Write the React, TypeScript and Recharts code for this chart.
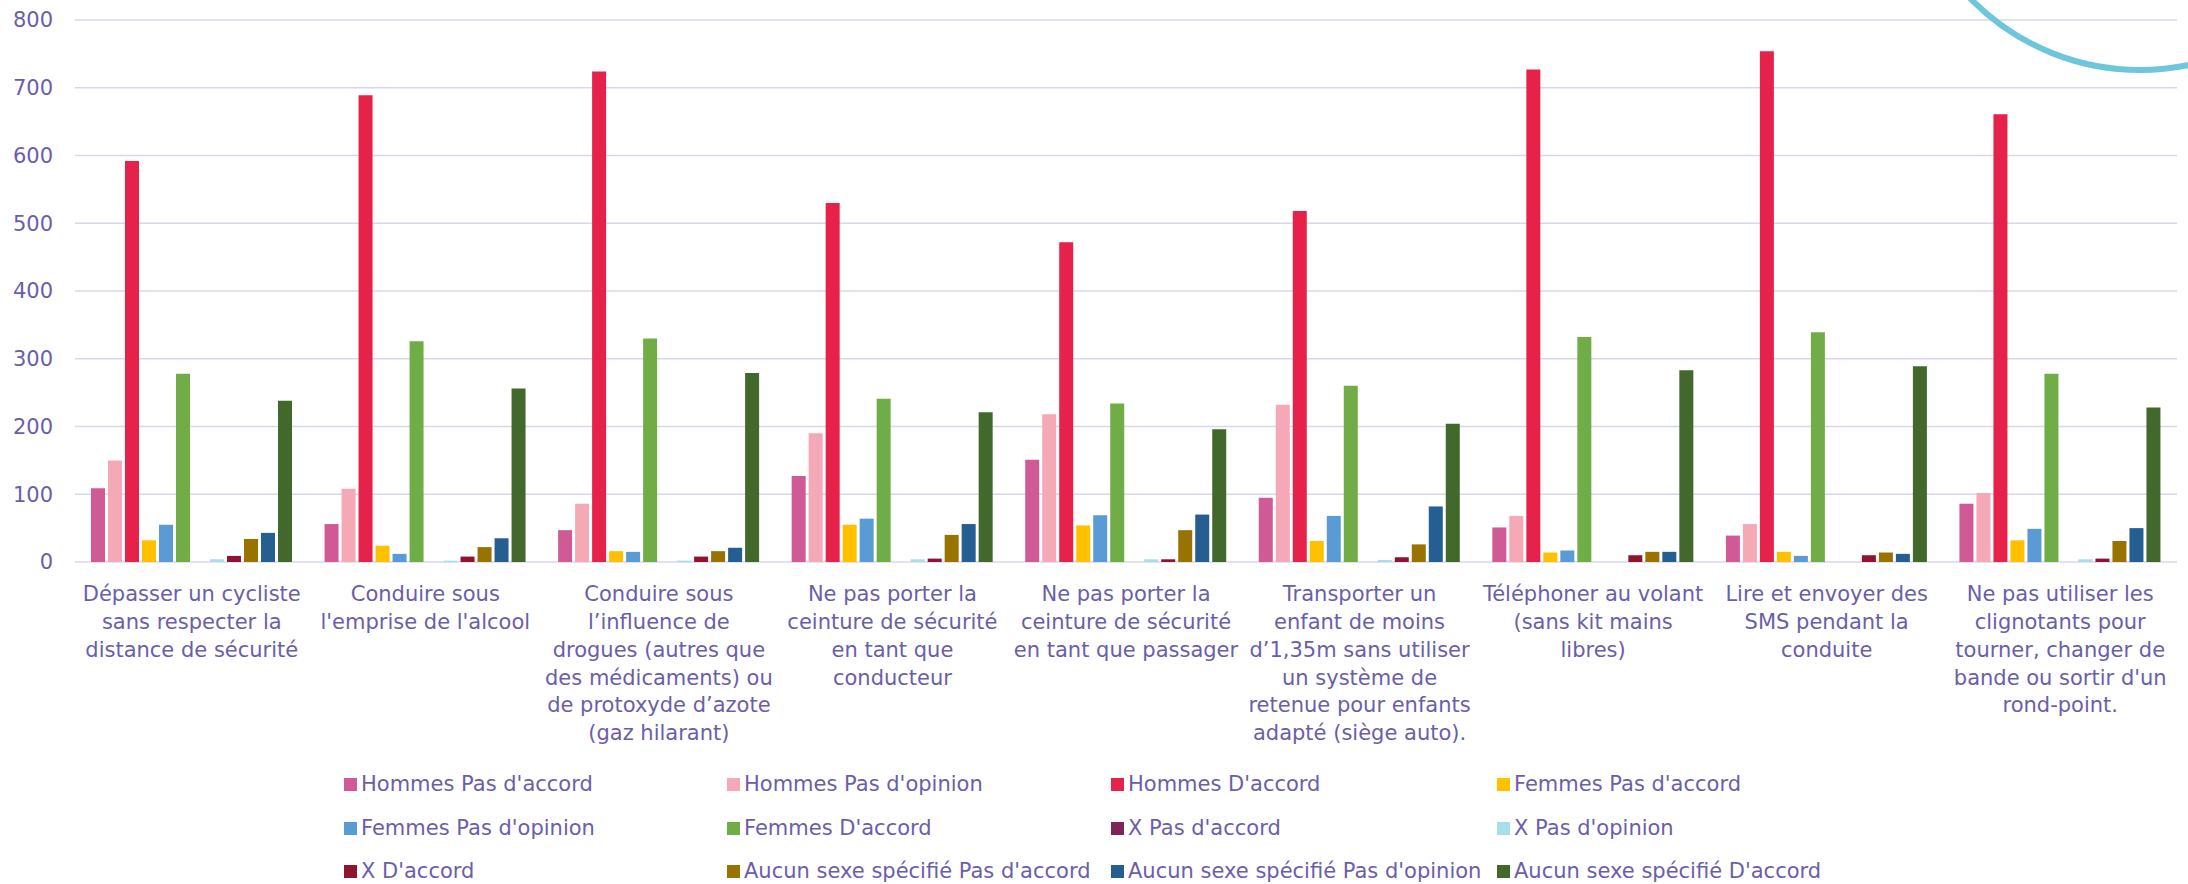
import { BarChart, Bar, XAxis, YAxis, CartesianGrid } from 'recharts';

// Categories (line breaks as they appear under each group)
const categories = [
  "Dépasser un cycliste\nsans respecter la\ndistance de sécurité",
  "Conduire sous\nl'emprise de l'alcool",
  "Conduire sous\nl’influence de\ndrogues (autres que\ndes médicaments) ou\nde protoxyde d’azote\n(gaz hilarant)",
  "Ne pas porter la\nceinture de sécurité\nen tant que\nconducteur",
  "Ne pas porter la\nceinture de sécurité\nen tant que passager",
  "Transporter un\nenfant de moins\nd’1,35m sans utiliser\nun système de\nretenue pour enfants\nadapté (siège auto).",
  "Téléphoner au volant\n(sans kit mains\nlibres)",
  "Lire et envoyer des\nSMS pendant la\nconduite",
  "Ne pas utiliser les\nclignotants pour\ntourner, changer de\nbande ou sortir d'un\nrond-point.",
];

const hommesPasDaccord = [109, 56, 47, 127, 151, 95, 51, 39, 86];
const hommesPasDopinion = [150, 108, 86, 190, 218, 232, 68, 56, 102];
const hommesDaccord = [592, 689, 724, 530, 472, 518, 727, 754, 661];
const femmesPasDaccord = [32, 24, 16, 55, 54, 31, 14, 15, 32];
const femmesPasDopinion = [55, 12, 15, 64, 69, 68, 17, 9, 49];
const femmesDaccord = [278, 326, 330, 241, 234, 260, 332, 339, 278];
const xPasDaccord = [0, 0, 0, 0, 0, 0, 0, 0, 0];
const xPasDopinion = [4, 2, 2, 4, 4, 3, 0, 0, 4];
const xDaccord = [9, 8, 8, 5, 4, 7, 10, 10, 5];
const aucunPasDaccord = [34, 22, 16, 40, 47, 26, 15, 14, 31];
const aucunPasDopinion = [43, 35, 21, 56, 70, 82, 15, 12, 50];
const aucunDaccord = [238, 256, 279, 221, 196, 204, 283, 289, 228];

const yTicks = [0, 100, 200, 300, 400, 500, 600, 700, 800];

const series = [
  { key: 'hpa', name: "Hommes Pas d'accord", values: hommesPasDaccord, color: '#CF5A96' },
  { key: 'hpo', name: "Hommes Pas d'opinion", values: hommesPasDopinion, color: '#F5A8B5' },
  { key: 'hda', name: "Hommes D'accord", values: hommesDaccord, color: '#E6224B' },
  { key: 'fpa', name: "Femmes Pas d'accord", values: femmesPasDaccord, color: '#FFC000' },
  { key: 'fpo', name: "Femmes Pas d'opinion", values: femmesPasDopinion, color: '#5B9BD5' },
  { key: 'fda', name: "Femmes D'accord", values: femmesDaccord, color: '#70AD47' },
  { key: 'xpa', name: "X Pas d'accord", values: xPasDaccord, color: '#7E2457' },
  { key: 'xpo', name: "X Pas d'opinion", values: xPasDopinion, color: '#A8DDEA' },
  { key: 'xda', name: "X D'accord", values: xDaccord, color: '#8E1430' },
  { key: 'apa', name: "Aucun sexe spécifié Pas d'accord", values: aucunPasDaccord, color: '#997300' },
  { key: 'apo', name: "Aucun sexe spécifié Pas d'opinion", values: aucunPasDopinion, color: '#255E91' },
  { key: 'ada', name: "Aucun sexe spécifié D'accord", values: aucunDaccord, color: '#43682B' },
];

const data = categories.map((cat, i) => {
  const row: any = { cat };
  series.forEach(s => { row[s.key] = s.values[i]; });
  return row;
});

const TEXT = '#6B5EA9';
const FONT = '"DejaVu Sans", sans-serif';

// wrapped category label under each group
const CategoryTick = ({ x, y, payload }: any) => {
  const lines = String(payload.value).split('\n');
  return (
    <text x={x} y={y + 30} textAnchor="middle" fill={TEXT} fontSize={21} fontFamily={FONT}>
      {lines.map((l, i) => (
        <tspan key={i} x={x} dy={i === 0 ? '0.355em' : 27.7}>{l}</tspan>
      ))}
    </text>
  );
};

const legendCols = [344, 727, 1111, 1497];
const legendRows = [784, 828, 871];

export default function App() {
  return (
    <div style={{ position: 'absolute', left: 0, top: 0, width: 2188, height: 884, overflow: 'hidden', background: '#fff' }}>
      <BarChart
        width={2188}
        height={884}
        data={data}
        margin={{ top: 20, right: 11, bottom: 0, left: 0 }}
        barCategoryGap={16}
        barGap={3}
      >
        <CartesianGrid vertical={false} stroke="#DAD6EA" strokeWidth={1.5} />
        <XAxis
          dataKey="cat"
          height={322}
          interval={0}
          axisLine={false}
          tickLine={false}
          tickSize={0}
          tick={<CategoryTick />}
        />
        <YAxis
          width={75}
          domain={[0, 800]}
          ticks={yTicks}
          axisLine={false}
          tickLine={false}
          tickSize={6}
          tickMargin={16}
          tick={{ fill: TEXT, fontSize: 21, fontFamily: FONT }}
        />
        {series.map(s => (
          <Bar key={s.key} dataKey={s.key} name={s.name} fill={s.color} isAnimationActive={false} />
        ))}
      </BarChart>

      {/* legend, 4 columns x 3 rows */}
      {series.map((s, i) => {
        const col = i % 4;
        const row = Math.floor(i / 4);
        return (
          <div
            key={s.key}
            style={{
              position: 'absolute',
              left: legendCols[col],
              top: legendRows[row] - 14,
              height: 28,
              display: 'flex',
              alignItems: 'center',
              fontFamily: FONT,
              fontSize: 21,
              color: TEXT,
              whiteSpace: 'nowrap',
            }}
          >
            <span style={{ display: 'inline-block', width: 13, height: 13, background: s.color, marginRight: 4 }} />
            {s.name}
          </div>
        );
      })}

      {/* decorative arc top right */}
      <svg width={2188} height={884} style={{ position: 'absolute', left: 0, top: 0, pointerEvents: 'none' }}>
        <circle cx={2140} cy={-167} r={237} fill="none" stroke="#6EC6DC" strokeWidth={6} />
      </svg>
    </div>
  );
}
